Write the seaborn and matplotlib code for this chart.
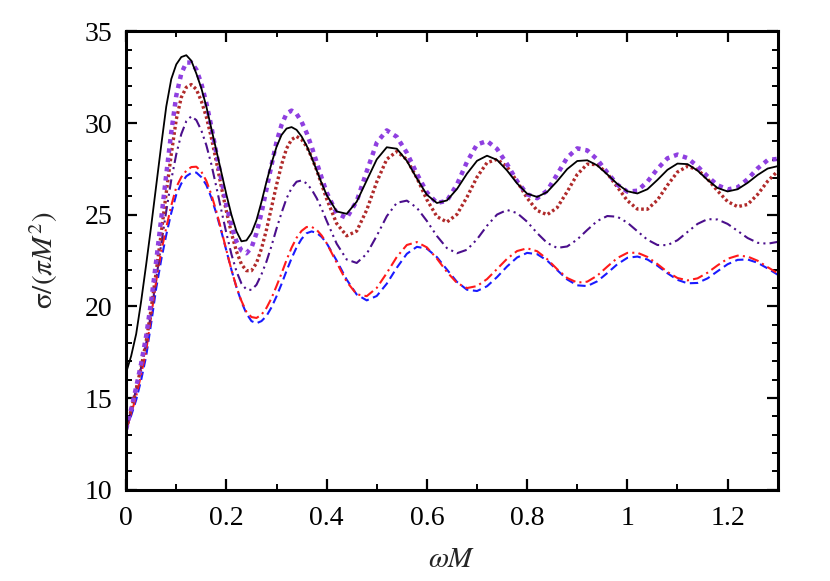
import numpy as np
import matplotlib
matplotlib.use("Agg")
import matplotlib.pyplot as plt
import seaborn as sns

# omega*M values: every 0.01 up to 0.4, then every 0.02
omega_m = [round(0.01 * i, 2) for i in range(41)] + [round(0.42 + 0.02 * i, 2) for i in range(45)]

sigma_black = [16.4, 17.3, 18.5, 20.3, 22.3, 24.4, 26.6, 28.8, 30.9, 32.4,
               33.2, 33.6, 33.7, 33.4, 32.7, 31.9, 30.9, 29.7, 28.5, 27.3,
               26.1, 25.0, 24.1, 23.55, 23.6, 24.0, 24.7, 25.7, 26.8, 27.8,
               28.7, 29.35, 29.7, 29.78, 29.63, 29.27, 28.77, 28.13, 27.43, 26.72,
               26.08,
               25.18, 25.05, 25.71, 26.87, 28.02, 28.68, 28.6, 27.94, 26.98,
               26.09, 25.64, 25.78, 26.4, 27.24, 27.94, 28.22, 27.99, 27.41, 26.71,
               26.15, 25.97, 26.24, 26.83, 27.49, 27.93, 27.97, 27.69, 27.2, 26.68,
               26.28, 26.16, 26.39, 26.9, 27.45, 27.79, 27.76, 27.41, 26.9, 26.46,
               26.27, 26.39, 26.74, 27.17, 27.52, 27.65]

sigma_purple = [13.3, 14.4, 15.6, 16.9, 18.4, 20.3, 22.5, 24.8, 27.2, 29.5,
                31.5, 32.7, 33.3, 33.3, 32.92, 32.15, 31.09, 29.8, 28.34, 26.9,
                25.56, 24.4, 23.55, 23.05, 22.9, 23.2, 23.99, 25.1, 26.39, 27.7,
                28.97, 29.9, 30.52, 30.68, 30.5, 30.07, 29.47, 28.72, 27.87, 27.02,
                26.22,
                25.08, 24.82, 25.74, 27.37, 28.93, 29.6, 29.25, 28.38, 27.24,
                26.22, 25.64, 25.76, 26.65, 27.88, 28.83, 29.02, 28.59, 27.76, 26.83,
                26.12, 25.9, 26.31, 27.2, 28.12, 28.62, 28.51, 28.01, 27.3, 26.64,
                26.26, 26.31, 26.8, 27.5, 28.08, 28.28, 28.09, 27.64, 27.09, 26.61,
                26.38, 26.49, 26.94, 27.53, 27.98, 28.05]

sigma_brown = [13.3, 14.35, 15.5, 16.7, 18.1, 19.9, 21.9, 24.0, 26.2, 28.3,
               30.2, 31.4, 31.95, 32.1, 31.84, 31.2, 30.33, 29.2, 27.89, 26.5,
               25.19, 24.0, 23.01, 22.3, 21.95, 21.95, 22.36, 23.15, 24.19, 25.4,
               26.62, 27.72, 28.61, 29.1, 29.27, 29.1, 28.72, 28.15, 27.44, 26.66,
               25.87,
               24.52, 23.85, 24.11, 25.26, 26.79, 28.03, 28.45, 28.01, 27.01,
               25.82, 24.9, 24.6, 25.02, 25.96, 27.05, 27.84, 28.02, 27.62, 26.82,
               25.91, 25.23, 25.0, 25.39, 26.26, 27.2, 27.76, 27.73, 27.25, 26.51,
               25.77, 25.31, 25.3, 25.8, 26.61, 27.33, 27.64, 27.46, 26.95, 26.3,
               25.72, 25.44, 25.56, 26.11, 26.83, 27.38]

sigma_indigo = [13.3, 14.35, 15.5, 16.7, 18.0, 19.7, 21.5, 23.4, 25.2, 26.9,
                28.3, 29.4, 30.1, 30.37, 30.16, 29.6, 28.79, 27.75, 26.51, 25.23,
                23.99, 22.85, 21.92, 21.25, 20.92, 20.9, 21.18, 21.75, 22.45, 23.3,
                24.24, 25.1, 25.89, 26.45, 26.8, 26.87, 26.71, 26.38, 25.91, 25.33,
                24.67,
                23.42, 22.56, 22.37, 22.87, 23.85, 24.92, 25.65, 25.77, 25.38,
                24.66, 23.84, 23.18, 22.9, 23.09, 23.66, 24.4, 25.01, 25.26, 25.09,
                24.62, 24.0, 23.46, 23.19, 23.27, 23.65, 24.17, 24.66, 24.93, 24.89,
                24.57, 24.1, 23.64, 23.35, 23.34, 23.61, 24.06, 24.5, 24.76, 24.74,
                24.5, 24.12, 23.73, 23.47, 23.42, 23.52]

sigma_red = [13.3, 14.15, 15.1, 16.3, 17.6, 19.5, 21.4, 23.0, 24.3, 25.5,
             26.5, 27.05, 27.4, 27.6, 27.62, 27.35, 26.85, 26.1, 25.18, 24.15,
             23.06, 22.0, 21.06, 20.3, 19.71, 19.42, 19.37, 19.55, 19.92, 20.45,
             21.11, 21.8, 22.53, 23.2, 23.74, 24.12, 24.33, 24.34, 24.18, 23.87,
             23.45,
             22.39, 21.35, 20.66, 20.56, 21.01, 21.82, 22.7, 23.35, 23.51,
             23.22, 22.61, 21.88, 21.28, 21.0, 21.11, 21.49, 22.04, 22.6, 23.02,
             23.17, 23.01, 22.58, 22.03, 21.55, 21.3, 21.35, 21.68, 22.17, 22.64,
             22.92, 22.93, 22.7, 22.31, 21.88, 21.55, 21.42, 21.53, 21.84, 22.24,
             22.6, 22.77, 22.72, 22.49, 22.14, 21.81]

sigma_blue = [13.3, 14.05, 14.9, 16.0, 17.3, 19.1, 21.0, 22.55, 23.9, 25.1,
              26.1, 26.7, 27.1, 27.28, 27.3, 27.05, 26.62, 25.93, 25.06, 24.08,
              23.04, 22.0, 21.05, 20.25, 19.61, 19.2, 19.08, 19.2, 19.48, 19.95,
              20.55, 21.22, 21.94, 22.62, 23.22, 23.68, 23.99, 24.09, 24.01, 23.79,
              23.45,
              22.5, 21.46, 20.65, 20.33, 20.57, 21.24, 22.11, 22.87, 23.25,
              23.15, 22.69, 22.01, 21.34, 20.91, 20.84, 21.1, 21.6, 22.18, 22.67,
              22.92, 22.85, 22.5, 21.98, 21.47, 21.15, 21.11, 21.37, 21.82, 22.3,
              22.65, 22.72, 22.56, 22.22, 21.81, 21.45, 21.26, 21.28, 21.53, 21.92,
              22.3, 22.54, 22.56, 22.38, 22.07, 21.73]

x_ticks = [0, 0.2, 0.4, 0.6, 0.8, 1.0, 1.2]
x_tick_labels = ["0", "0.2", "0.4", "0.6", "0.8", "1", "1.2"]
y_ticks = [10, 15, 20, 25, 30, 35]

sns.set_theme(style="ticks")
plt.rcParams["font.family"] = ["Liberation Serif", "DejaVu Serif"]
plt.rcParams["mathtext.fontset"] = "stix"

fig = plt.figure(figsize=(8.3, 5.81), dpi=100)
ax = fig.add_axes([0.152, 0.157, 0.785, 0.789])

# blue dashed and red dash-dot
sns.lineplot(x=omega_m, y=sigma_blue, ax=ax, color="#1a1aff", linewidth=1.5,
             linestyle=(0, (4, 2.2)))
sns.lineplot(x=omega_m, y=sigma_red, ax=ax, color="#ff1a1a", linewidth=1.5,
             linestyle=(0, (5, 2, 1, 2)))
# indigo dash-dot-dot
sns.lineplot(x=omega_m, y=sigma_indigo, ax=ax, color="#4b0f8c", linewidth=1.5,
             linestyle=(0, (5, 2, 1, 2, 1, 2)))
# brown and purple dotted
sns.lineplot(x=omega_m, y=sigma_brown, ax=ax, color="#b02a2a", linewidth=2.4,
             linestyle=(0, (0.8, 0.8)), dash_capstyle="butt")
sns.lineplot(x=omega_m, y=sigma_purple, ax=ax, color="#8f3fe0", linewidth=3.2,
             linestyle=(0, (1, 1.1)), dash_capstyle="butt")
# black solid
sns.lineplot(x=omega_m, y=sigma_black, ax=ax, color="black", linewidth=1.3)

ax.set_xlim(0, 1.3)
ax.set_ylim(10, 35)
ax.set_xticks(x_ticks)
ax.set_xticklabels(x_tick_labels)
ax.set_yticks(y_ticks)
ax.set_xticks(np.arange(0.1, 1.3, 0.2), minor=True)
ax.set_yticks(np.arange(10, 36, 1), minor=True)

ax.tick_params(which="both", direction="in", top=True, right=True,
               colors="black", labelsize=20)
ax.tick_params(which="major", length=8, width=1.6)
ax.tick_params(axis="x", which="major", pad=12)
ax.tick_params(axis="y", which="major", pad=10)
ax.tick_params(which="minor", length=4.5, width=1.4)
for side in ax.spines.values():
    side.set_linewidth(2.2)
    side.set_color("black")

ax.set_xlabel(r"$\omega M$", fontsize=21, labelpad=11)
ax.set_ylabel(r"$\mathrm{\sigma/(}\pi M^2\mathrm{)}$", fontsize=21, labelpad=18)

fig.savefig("out.png", dpi=100)
